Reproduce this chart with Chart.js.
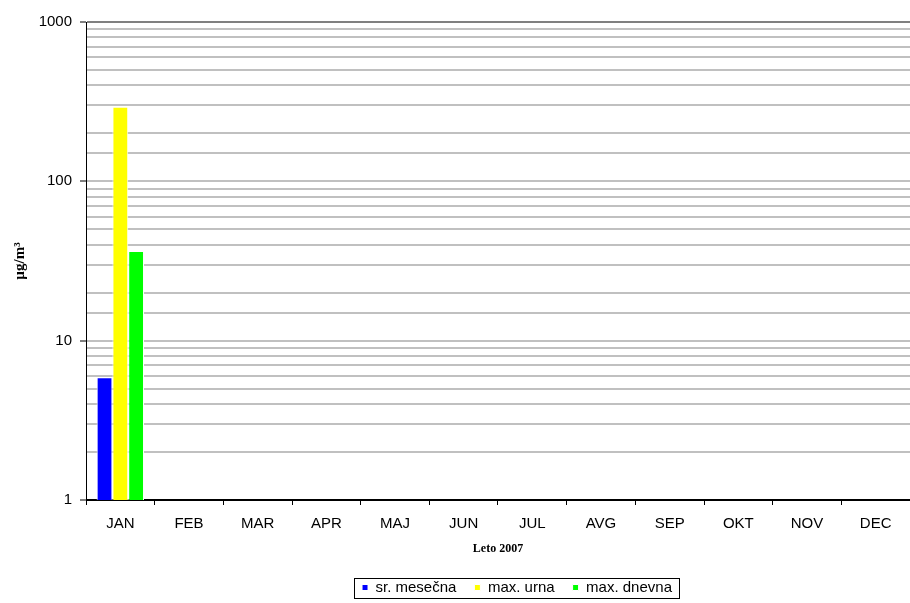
<!DOCTYPE html>
<html lang="sl">
<head>
  <meta charset="UTF-8">
  <title>Leto 2007</title>
  <script src="https://cdn.jsdelivr.net/npm/chart.js"></script>
  <style>
    html, body { margin: 0; padding: 0; background: #fff; }
    #wrap { width: 910px; height: 603px; }
  </style>
</head>
<body>
<div id="wrap"><canvas id="chart" width="910" height="603"></canvas></div>
<script>
const months = ['JAN', 'FEB', 'MAR', 'APR', 'MAJ', 'JUN', 'JUL', 'AVG', 'SEP', 'OKT', 'NOV', 'DEC'];
const srMesecna = [5.9, null, null, null, null, null, null, null, null, null, null, null];
const maxUrna = [294, null, null, null, null, null, null, null, null, null, null, null];
const maxDnevna = [36.5, null, null, null, null, null, null, null, null, null, null, null];
const yLabels = [1, 10, 100, 1000];

const sans = "'Liberation Sans', Arial, sans-serif";
const serif = "'Liberation Serif', 'Times New Roman', serif";

function isMajor(v) {
  return yLabels.indexOf(v) > -1;
}

// legend sits lower and a bit right, with a thin frame round it
const legendFrame = {
  id: 'legendFrame',
  afterLayout(chart) {
    const l = chart.legend;
    l.top = 562;
    l.bottom = 603;
    l.left += 62;
    l.right += 62;
  },
  afterDraw(chart) {
    const boxes = chart.legend.legendHitBoxes;
    if (!boxes || !boxes.length) return;
    const first = boxes[0];
    const last = boxes[boxes.length - 1];
    const ctx = chart.ctx;
    ctx.save();
    ctx.strokeStyle = '#000';
    ctx.lineWidth = 1;
    ctx.strokeRect(Math.round(first.left) - 7.5, 578.5, Math.round(last.left + last.width - first.left) + 15, 20);
    ctx.restore();
  }
};

const ctx = document.getElementById('chart').getContext('2d');
const chart = new Chart(ctx, {
  type: 'bar',
  data: {
    labels: months,
    datasets: [
      { label: 'sr. mesečna', data: srMesecna, backgroundColor: '#0000ff', borderColor: '#ffffff', borderWidth: 1 },
      { label: 'max. urna', data: maxUrna, backgroundColor: '#ffff00', borderColor: '#ffffff', borderWidth: 1 },
      { label: 'max. dnevna', data: maxDnevna, backgroundColor: '#00ff00', borderColor: '#ffffff', borderWidth: 1 }
    ]
  },
  options: {
    responsive: false,
    animation: false,
    layout: { padding: { top: 22, left: 0, right: 0, bottom: 0 } },
    datasets: {
      bar: { barPercentage: 1, categoryPercentage: 0.69 }
    },
    scales: {
      x: {
        offset: true,
        grid: { display: true, drawOnChartArea: false, drawTicks: true, tickLength: 5, tickColor: '#000', offset: true },
        border: { color: '#000', width: 1 },
        ticks: { color: '#000', padding: 10, font: { family: sans, size: 15 }, maxRotation: 0, autoSkip: false },
        title: { display: true, text: 'Leto 2007', color: '#000', font: { family: serif, size: 12, weight: 'bold' }, padding: { top: 0, bottom: 25 } },
        afterFit(scale) { scale.height = 81; }
      },
      y: {
        type: 'logarithmic',
        min: 1,
        max: 1000,
        grid: {
          lineWidth: 2,
          color(c) {
            if (c.tick && c.tick.value === 1000) return '#808080';
            if (c.tick && c.tick.value === 1) return '#000';
            return '#c0c0c0';
          },
          tickLength: 6,
          tickColor(c) { return c.tick && isMajor(c.tick.value) ? '#000' : 'rgba(0,0,0,0)'; },
          tickWidth: 1
        },
        border: { color: '#000', width: 1 },
        ticks: {
          autoSkip: false,
          color: '#000',
          padding: 8,
          font: { family: sans, size: 15 },
          callback(v) { return isMajor(v) ? String(v) : ''; }
        },
        title: { display: true, text: 'µg/m³', color: '#000', font: { family: serif, size: 15, weight: 'bold' }, padding: { top: 11, bottom: 0 } },
        afterFit(scale) { scale.width = 86; }
      }
    },
    plugins: {
      legend: {
        position: 'bottom',
        maxHeight: 22,
        labels: { color: '#000', boxWidth: 6, boxHeight: 6, padding: 18, font: { family: sans, size: 15 } }
      },
      tooltip: { enabled: false }
    }
  },
  plugins: [legendFrame]
});
</script>
</body>
</html>
